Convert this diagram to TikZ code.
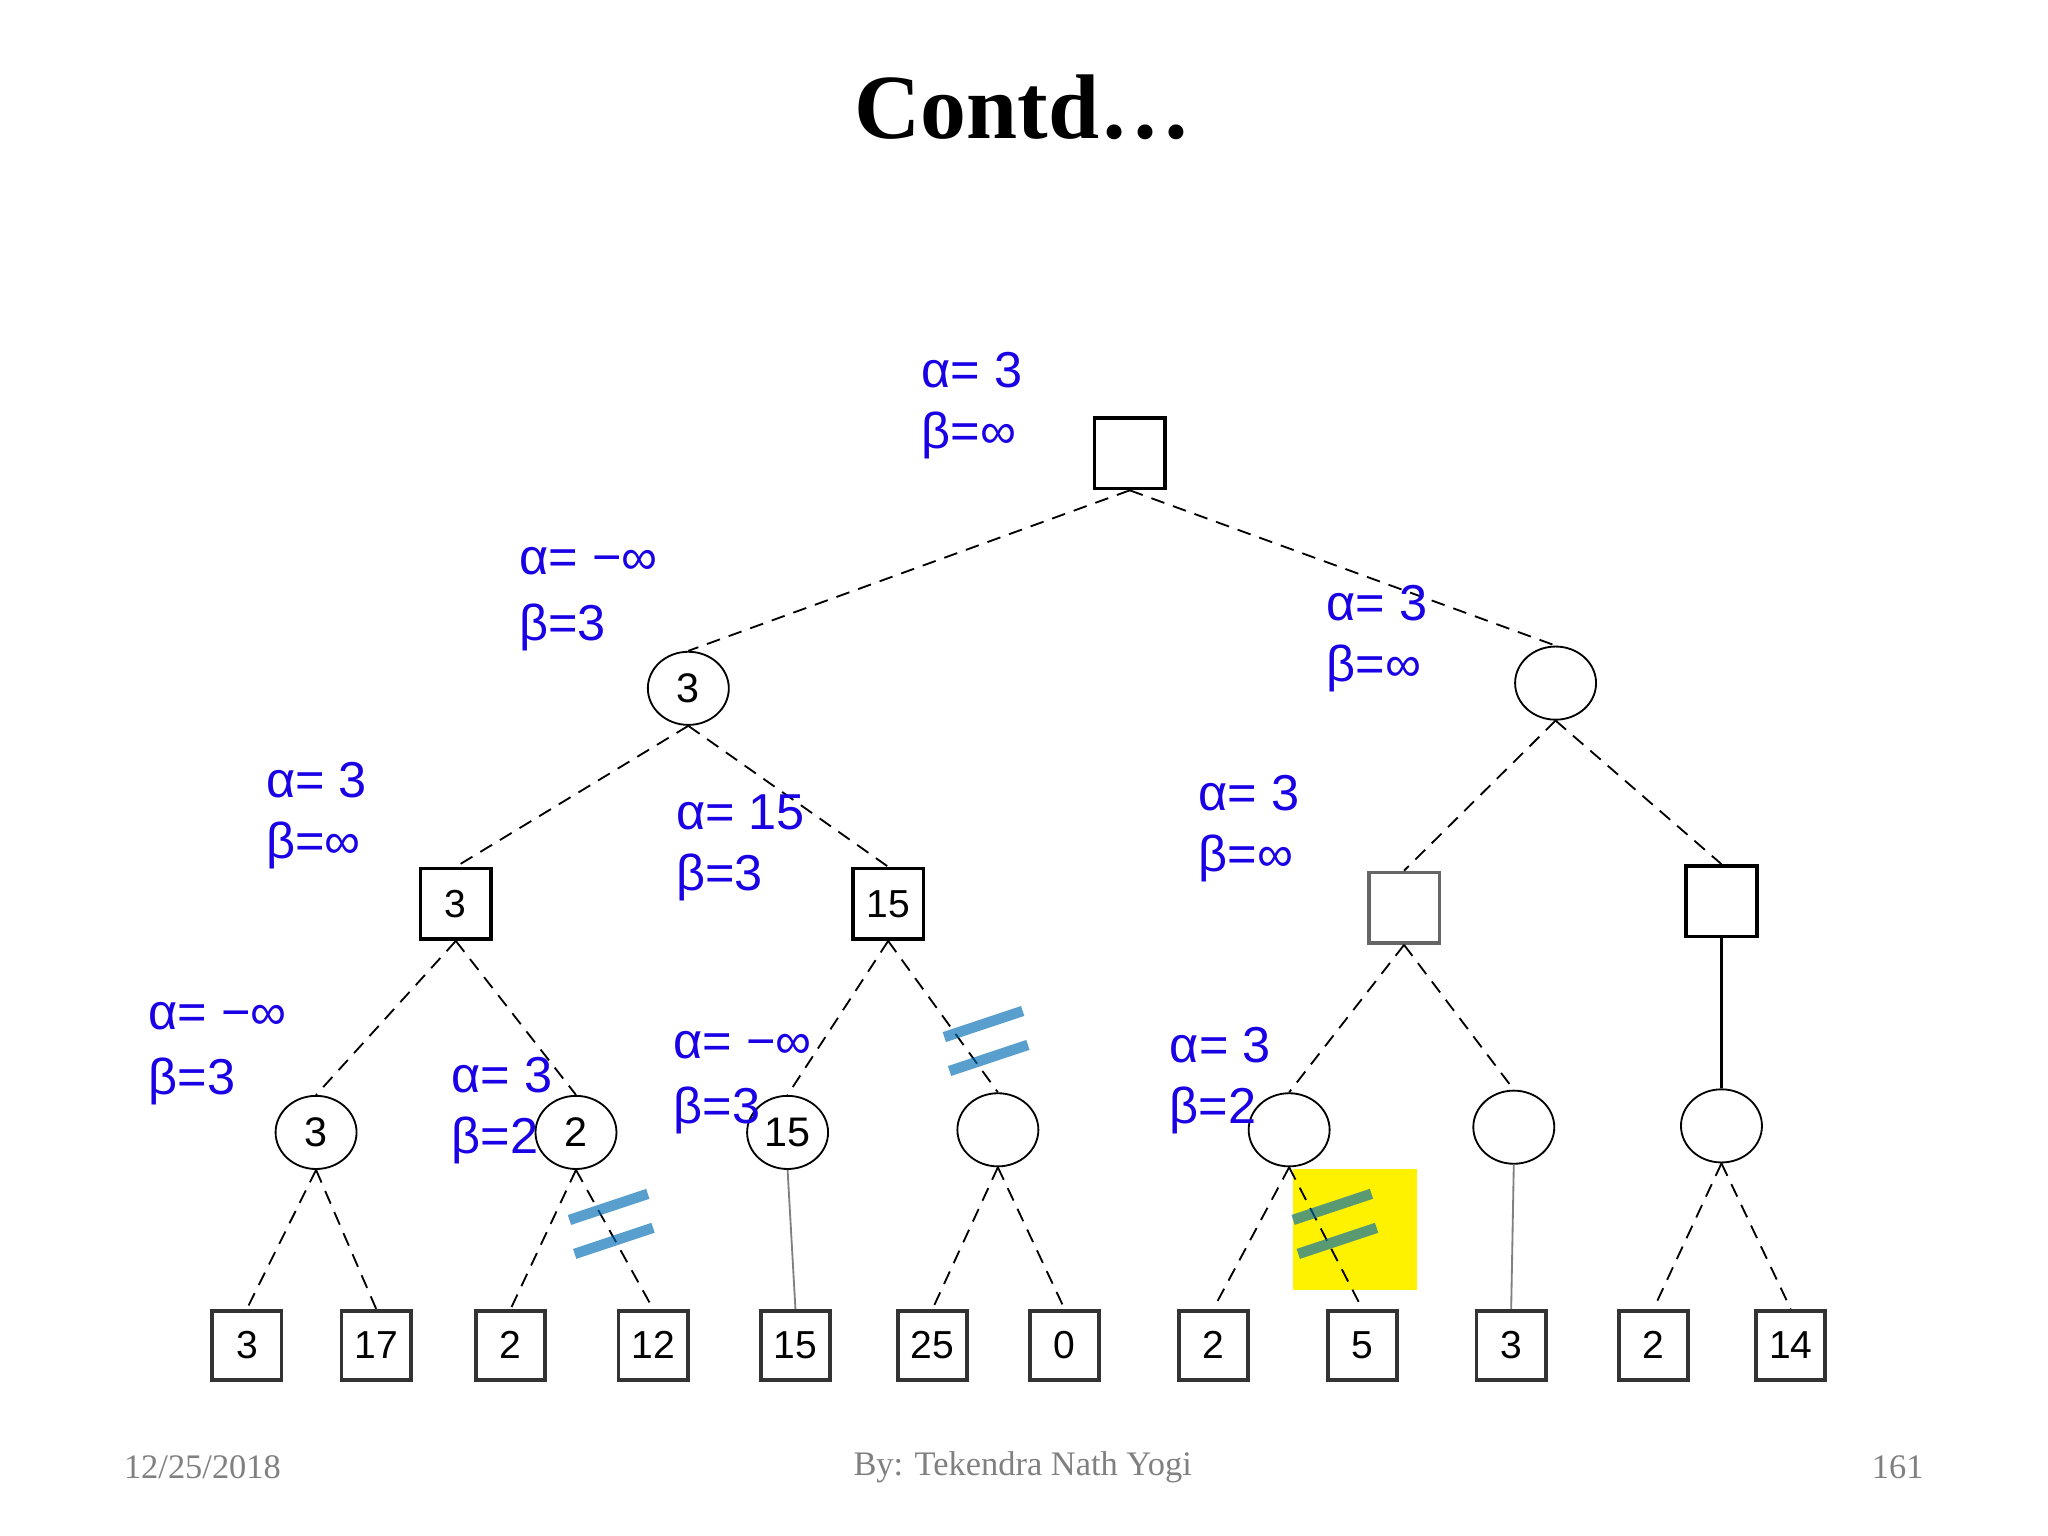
\documentclass[tikz,border=0pt]{standalone}
\usepackage{fontspec}
\usetikzlibrary{shapes.geometric}
\setmainfont{Liberation Serif}
\newfontfamily\lsans{Liberation Sans}
\begin{document}
\begin{tikzpicture}[x=0.1mm,y=-0.1mm,
 sq/.style={draw,thick,minimum width=5.4mm,minimum height=5.4mm,inner sep=0pt,font=\lsans\fontsize{8.5}{9}\selectfont},
 lf/.style={sq,minimum width=5.3mm,minimum height=5.3mm,draw=black!80},
 ci/.style={draw,ellipse,minimum width=6.2mm,minimum height=5.6mm,inner sep=0pt,font=\lsans\fontsize{9}{10}\selectfont},
 ed/.style={densely dashed,thin},
 lab/.style={text=blue!80!violet,font=\lsans\fontsize{11}{12}\selectfont,anchor=west,inner sep=0pt},
 cut/.style={draw=blue!40!cyan!70!black,line width=0.8mm,opacity=0.65},
 ft/.style={text=gray,font=\fontsize{7.5}{9}\selectfont}]
\useasboundingbox (0,0) rectangle (1568,1176);
\node[font=\bfseries\fontsize{20}{24}\selectfont] (t) at (783,82) {Contd\ldots};
\fill[yellow] (990,895) rectangle (1085,988);
\node[sq] (r) at (865,347) {};
\node[ci] (a) at (527,527) {3};
\node[ci] (b) at (1191,523) {};
\node[sq] (c) at (349,692) {3};
\node[sq] (d) at (680,692) {15};
\node[sq,draw=black!60] (e) at (1075,695) {};
\node[sq] (f) at (1318,690) {};
\node[ci] (g) at (242,867) {3};
\node[ci] (h) at (441,867) {2};
\node[ci] (i) at (603,867) {15};
\node[ci] (j) at (764,865) {};
\node[ci] (k) at (987,865) {};
\node[ci] (l) at (1159,863) {};
\node[ci] (m) at (1318,862) {};
\foreach \n/\x/\v in {l1/189/3,l2/288/17,l3/391/2,l4/500/12,l5/609/15,l6/714/25,l7/815/0,l8/929/2,l9/1043/5,l10/1157/3,l11/1266/2,l12/1371/14}
  \node[lf] (\n) at (\x,1030) {\v};
\draw[ed] (r.south) -- (a.north); \draw[ed] (r.south) -- (b.north);
\draw[ed] (a.south) -- (c.north); \draw[ed] (a.south) -- (d.north);
\draw[ed] (b.south) -- (e.north); \draw[ed] (b.south) -- (f.north);
\draw[ed] (c.south) -- (g.north); \draw[ed] (c.south) -- (h.north);
\draw[ed] (d.south) -- (i.north); \draw[ed] (d.south) -- (j.north);
\draw[ed] (e.south) -- (k.north); \draw[ed] (e.south) -- (l.north);
\draw[thick] (f.south) -- (m.north);
\draw[ed] (g.south) -- (l1.north); \draw[ed] (g.south) -- (l2.north);
\draw[ed] (h.south) -- (l3.north); \draw[ed] (h.south) -- (l4.north);
\draw[gray] (i.south) -- (l5.north);
\draw[ed] (j.south) -- (l6.north); \draw[ed] (j.south) -- (l7.north);
\draw[ed] (k.south) -- (l8.north); \draw[ed] (k.south) -- (l9.north);
\draw[gray] (l.south) -- (l10.north);
\draw[ed] (m.south) -- (l11.north); \draw[ed] (m.south) -- (l12.north);
\foreach \x/\y in {755/800,468/940,1022/940}{
  \draw[cut] (\x-32,\y-6) -- (\x+28,\y-26);
  \draw[cut] (\x-28,\y+20) -- (\x+32,\y);}
\foreach \x/\y/\al/\be in {705/283/3/∞,397/430/−∞/3,1015/462/3/∞,203/597/3/∞,517/622/15/3,917/607/3/∞,113/778/−∞/3,345/823/3/2,515/800/−∞/3,895/800/3/2}{
  \node[lab] at (\x,\y) {α= \al};
  \node[lab] at (\x,\y+50) {β=\be};}
\node[ft] (f1) at (155,1123) {12/25/2018};
\node[ft] (f2) at (783,1123) {By: Tekendra Nath Yogi};
\node[ft] (f3) at (1453,1123) {161};
\end{tikzpicture}
\end{document}
